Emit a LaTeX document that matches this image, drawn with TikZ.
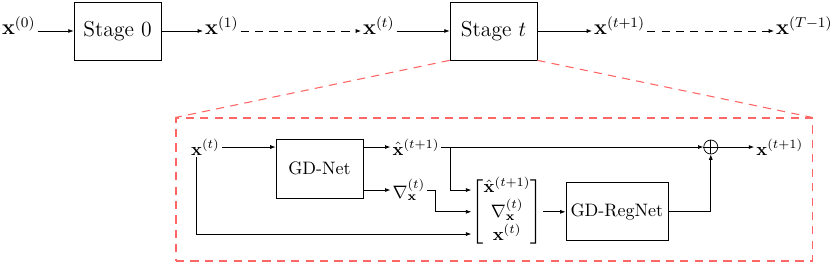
\documentclass[tikz,border=0pt]{standalone}
\usepackage{amsmath,amssymb}
\usepackage{tikz}
\usetikzlibrary{arrows.meta,positioning}

\begin{document}
\begin{tikzpicture}[>={Latex[length=3pt,width=2.2pt]},
  stagebox/.style={draw, minimum width=1.698cm, minimum height=1.132cm, font=\large},
  blk/.style={draw, minimum height=1.15cm, inner sep=2pt},
  topvar/.style={anchor=west, inner sep=1pt, font=\large, text height=1ex, text depth=0pt},
  var/.style={anchor=west, inner sep=1pt},
  dsh/.style={dash pattern=on 4.5pt off 3.5pt},
  zoomln/.style={red!60, semithick, dash pattern=on 4.5pt off 3.5pt}]
\useasboundingbox (0,0) rectangle (16.2,5.134);
% unrolled stages
\node[topvar] (x0) at (0,4.529) {$\mathbf{x}^{(0)}$};
\node[stagebox] (s0) at (2.294,4.529) {Stage $0$};
\node[topvar] (x1) at (3.963,4.529) {$\mathbf{x}^{(1)}$};
\node[topvar] (xt) at (7.047,4.529) {$\mathbf{x}^{(t)}$};
\node[stagebox] (st) at (9.633,4.529) {Stage $t$};
\node[topvar] (xt1) at (11.556,4.529) {$\mathbf{x}^{(t+1)}$};
\node[topvar] (xT) at (15.108,4.529) {$\mathbf{x}^{(T-1)}$};
\draw[->] (x0) -- (s0);
\draw[->] (s0) -- (x1);
\draw[->, dsh] (x1) -- (xt);
\draw[->] (xt) -- (st);
\draw[->] (st) -- (xt1);
\draw[->, dsh] (xt1) -- (xT);
% zoomed stage
\node[draw, zoomln, minimum width=12.415cm, minimum height=2.791cm] (zb) at (9.643,1.435) {};
\draw[zoomln] (st.south west) -- (zb.north west);
\draw[zoomln] (st.south east) -- (zb.north east);
\node[var] (xin) at (3.689,2.264) {$\mathbf{x}^{(t)}$};
\node[blk, minimum width=1.698cm] (gd) at (6.236,1.845) {GD-Net};
\node[var] (xh) at (7.62,2.264) {$\hat{\mathbf{x}}^{(t+1)}$};
\node[var] (gr) at (7.62,1.425) {$\nabla_{\mathbf{x}}^{(t)}$};
\node[inner sep=0pt] (mat) at (9.897,1.0) {$\begin{bmatrix} \hat{\mathbf{x}}^{(t+1)} \\ \nabla_{\mathbf{x}}^{(t)} \\ \mathbf{x}^{(t)} \end{bmatrix}$};
\node[blk, minimum width=1.991cm, minimum height=1.132cm] (reg) at (12.04,1.0) {GD-RegNet};
\node[draw, circle, minimum size=0.274cm, inner sep=0pt] (sum) at (13.873,2.264) {};
\draw (sum.north) -- (sum.south) (sum.west) -- (sum.east);
\node[var] (xo) at (14.72,2.264) {$\mathbf{x}^{(t+1)}$};
\coordinate (br) at (8.797,0);
\coordinate (jg) at (8.505,0);
\coordinate (lo) at (3.840,0.566);
\coordinate (m1) at (mat.west |- gr);
\coordinate (m2) at (mat.west);
\draw[->] (xin) -- (gd.west |- xin);
\draw[->] (gd.east |- xh) -- (xh);
\draw[->] (gd.east |- gr) -- (gr);
\draw[->] (xh) -- (sum);
\draw[->] (br |- xh) -- (br |- m1) -- (m1);
\draw[->] (gr) -- (jg |- gr) -- (jg |- m2) -- (m2);
\draw[->] (lo |- xin.south) -- (lo) -- (lo -| mat.west);
\draw[->] (mat) -- (reg);
\draw[->] (reg) -| (sum);
\draw[->] (sum) -- (xo);
\end{tikzpicture}
\end{document}
